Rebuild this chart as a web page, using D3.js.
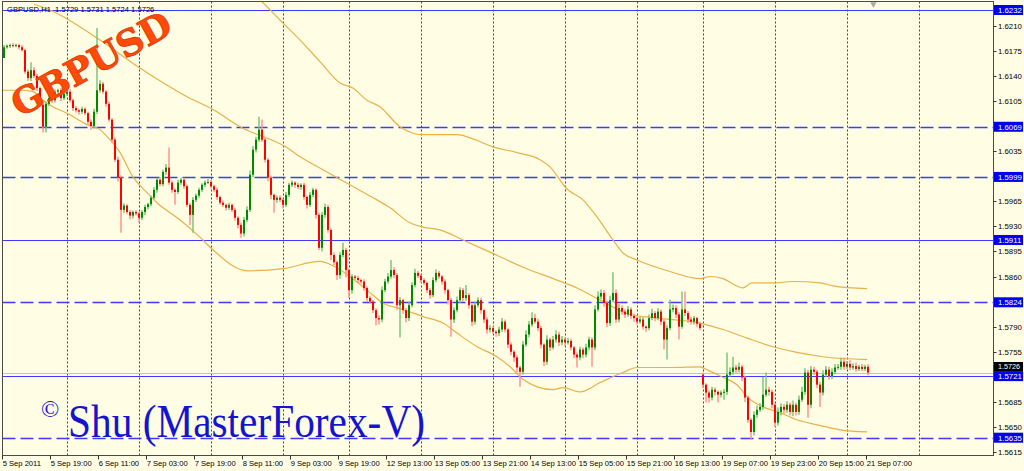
<!DOCTYPE html>
<html><head><meta charset="utf-8">
<script src="https://cdn.jsdelivr.net/npm/d3@7"></script>
<style>body{margin:0;background:#fffde3;}svg{display:block}</style>
</head><body><svg id="c" width="1024" height="471"></svg>
<script>
// ---------------- DATA ----------------
const symbolTitle = "GBPUSD,H1  1.5729 1.5731 1.5724 1.5726";
const firstOpen = 1.6165;
const gapOpens = [[233, 1.5723]]; // weekend gap: bar index, open price
const closes = [
1.6180,1.6182,1.6183,1.6182,1.6183,1.6180,1.6176,1.6146,1.6137,1.6148,
1.6140,1.6123,1.6100,1.6069,1.6101,1.6109,1.6106,1.6118,1.6120,1.6109,
1.6115,1.6118,1.6106,1.6095,1.6092,1.6090,1.6094,1.6088,1.6076,1.6070,
1.6090,1.6120,1.6129,1.6118,1.6101,1.6079,1.6051,1.6023,1.5998,1.5953,
1.5959,1.5950,1.5945,1.5950,1.5948,1.5942,1.5950,1.5957,1.5961,1.5970,
1.5981,1.5995,1.5989,1.6006,1.6012,1.5991,1.5981,1.5978,1.5991,1.5995,
1.5986,1.5960,1.5946,1.5967,1.5973,1.5981,1.5988,1.5991,1.5992,1.5986,
1.5981,1.5971,1.5963,1.5960,1.5956,1.5960,1.5953,1.5942,1.5932,1.5920,
1.5939,1.5953,1.6002,1.6037,1.6051,1.6065,1.6051,1.6023,1.5998,1.5974,
1.5967,1.5970,1.5967,1.5960,1.5974,1.5988,1.5991,1.5988,1.5985,1.5988,
1.5971,1.5960,1.5974,1.5981,1.5946,1.5900,1.5946,1.5957,1.5925,1.5890,
1.5880,1.5862,1.5890,1.5897,1.5869,1.5841,1.5860,1.5858,1.5855,1.5853,
1.5844,1.5830,1.5825,1.5813,1.5802,1.5800,1.5841,1.5853,1.5860,1.5869,
1.5862,1.5820,1.5827,1.5813,1.5802,1.5820,1.5848,1.5865,1.5861,1.5855,
1.5851,1.5841,1.5834,1.5855,1.5865,1.5860,1.5853,1.5841,1.5827,1.5800,
1.5813,1.5827,1.5841,1.5830,1.5834,1.5820,1.5797,1.5820,1.5827,1.5813,
1.5800,1.5786,1.5788,1.5783,1.5781,1.5786,1.5797,1.5786,1.5765,1.5755,
1.5747,1.5733,1.5727,1.5765,1.5779,1.5793,1.5802,1.5797,1.5788,1.5765,
1.5741,1.5772,1.5761,1.5772,1.5779,1.5768,1.5772,1.5768,1.5770,1.5761,
1.5751,1.5747,1.5758,1.5751,1.5761,1.5772,1.5761,1.5814,1.5832,1.5837,
1.5823,1.5795,1.5827,1.5837,1.5800,1.5816,1.5811,1.5807,1.5814,1.5805,
1.5802,1.5797,1.5800,1.5790,1.5788,1.5802,1.5809,1.5802,1.5811,1.5797,
1.5772,1.5788,1.5814,1.5816,1.5807,1.5790,1.5814,1.5809,1.5800,1.5797,
1.5802,1.5794,1.5788,1.5709,1.5698,1.5691,1.5702,1.5699,1.5695,1.5698,
1.5699,1.5723,1.5727,1.5733,1.5730,1.5734,1.5719,1.5691,1.5660,1.5643,
1.5667,1.5674,1.5678,1.5695,1.5702,1.5699,1.5681,1.5656,1.5671,1.5678,
1.5674,1.5681,1.5671,1.5681,1.5671,1.5688,1.5699,1.5726,1.5681,1.5730,
1.5727,1.5709,1.5698,1.5723,1.5730,1.5721,1.5727,1.5733,1.5734,1.5741,
1.5734,1.5738,1.5733,1.5735,1.5731,1.5734,1.5731,1.5734,1.5726];
// upper / lower shadow length of each candle, in pips
const upWickPips = [
3,2,2,3,2,2,3,2,3,11, 4,3,2,3,3,4,2,3,2,3, 3,2,3,2,3,2,3,2,2,3, 4,87,5,3,2,3,2,3,4,3,
3,2,3,2,3,2,3,3,2,3, 4,3,4,3,5,28,3,2,4,3, 3,2,3,4,3,3,2,3,4,3, 2,3,2,3,2,3,2,3,2,3,
4,5,6,5,4,18,14,3,2,3, 2,3,3,2,4,3,3,2,3,2, 3,2,4,3,2,3,4,5,3,2, 3,2,4,10,3,2,3,2,3,2,
3,2,3,2,3,4,5,4,5,14, 4,3,4,2,3,5,4,6,3,2, 3,2,3,4,5,3,2,3,2,3, 4,5,4,3,14,3,2,5,4,3,
2,3,4,3,2,4,5,3,2,3, 2,3,2,5,6,5,8,6,4,3, 2,6,3,5,6,4,5,3,4,3, 2,3,4,3,5,4,3,6,7,5,
4,3,6,29,5,6,4,3,5,3, 3,2,4,3,2,5,6,3,5,3, 3,4,14,5,4,3,25,25,3,4, 3,2,3,3,2,3,4,3,2,3,
4,31,6,15,4,6,3,2,3,2, 5,6,5,25,24,4,3,2,6,5, 4,5,3,6,3,6,7,6,4,5, 4,3,4,6,5,4,5,5,4,6,
6,4,5,4,5,3,4,3,4];
const dnWickPips = [
0,2,3,2,2,3,2,3,4,4, 3,4,3,8,8,3,4,3,3,4, 3,3,3,4,3,4,3,3,4,5, 3,3,3,3,4,3,4,3,5,32,
4,3,5,4,3,7,3,4,3,3, 3,4,3,3,4,3,4,18,3,3, 4,3,14,25,3,3,3,3,2,3, 3,4,3,3,4,3,3,4,5,6,
4,3,3,3,4,3,3,4,5,6, 18,4,3,5,3,3,3,4,3,4, 4,5,3,3,5,3,5,4,4,7, 4,7,5,3,10,11,5,3,4,3,
4,5,3,4,10,7,4,3,3,3, 4,6,45,5,6,4,3,3,3,4, 3,4,5,3,3,3,4,5,6,24, 5,3,4,5,4,5,6,4,3,5,
5,6,4,3,5,4,3,4,5,5, 6,7,21,4,3,4,3,3,4,5, 6,4,5,3,4,5,4,5,3,4, 5,14,4,5,4,4,27,4,3,4,
5,6,4,3,5,4,4,5,3,4, 5,4,3,4,5,3,3,4,3,5, 14,28,3,4,5,18,3,4,5,4, 4,5,3,5,14,7,4,5,11,4,
10,4,3,4,5,4,5,6,4,11, 5,4,3,4,3,5,5,6,4,5, 5,4,5,6,5,4,3,4,18,5, 4,5,20,4,3,5,4,3,3,4,
4,3,4,3,4,3,3,3,4];
// Bollinger-style envelope, sampled [bar index, price]
const bandUpper = [[82,1.6257],[85.3,1.6246],[92,1.6218],[98.7,1.6190],[105.3,1.6160],[112,1.6130],[116.3,1.6123],[121,1.6106],[125.3,1.6097],[132,1.6069],[136.3,1.6060],[138.7,1.6058],[145.3,1.6058],[151,1.6058],[157,1.6051],[163,1.6041],[171,1.6033],[178.7,1.6023],[182,1.6013],[185.3,1.5995],[187,1.5985],[193,1.5967],[197.7,1.5943],[203,1.5911],[206.3,1.5893],[211,1.5883],[222,1.5867],[232,1.5857],[235.3,1.5860],[239.7,1.5857],[244.7,1.5846],[246.3,1.5844],[249.3,1.5851],[256.3,1.5851],[263,1.5853],[272,1.5851],[276.3,1.5847],[287.7,1.5843]];
const bandMiddle = [[10,1.6240],[15.3,1.6232],[32,1.6190],[45.3,1.6151],[61,1.6111],[69.7,1.6093],[78.7,1.6069],[94.3,1.6040],[98.7,1.6027],[106.3,1.6009],[115.3,1.5988],[123,1.5970],[128.7,1.5956],[135.3,1.5935],[139.7,1.5929],[145.3,1.5925],[153,1.5911],[162,1.5894],[173,1.5873],[184.3,1.5855],[191,1.5844],[198.7,1.5827],[208.7,1.5807],[217.7,1.5802],[232,1.5795],[239.7,1.5786],[247.7,1.5774],[256.3,1.5762],[264.3,1.5754],[273,1.5748],[287.7,1.5744]];
const bandLower = [[-1.3,1.6120],[5.3,1.6120],[9.7,1.6118],[13,1.6106],[16.3,1.6097],[21,1.6088],[27.7,1.6072],[32,1.6065],[35.3,1.6051],[38.7,1.6033],[43,1.5999],[47.7,1.5977],[51,1.5963],[58.7,1.5939],[65.3,1.5915],[69.7,1.5897],[81,1.5868],[93,1.5871],[105.3,1.5881],[109.7,1.5875],[115.3,1.5860],[121,1.5841],[126.3,1.5823],[133,1.5814],[139.7,1.5804],[146.3,1.5795],[151,1.5781],[157.7,1.5762],[164.3,1.5748],[168.7,1.5734],[172,1.5720],[177.7,1.5706],[183,1.5702],[186.3,1.5705],[192,1.5699],[198.7,1.5712],[206.3,1.5726],[211,1.5733],[223,1.5733],[232,1.5734],[234.3,1.5730],[239.7,1.5719],[244.3,1.5709],[247.7,1.5692],[253,1.5678],[258.7,1.5670],[264.3,1.5660],[271,1.5653],[278.7,1.5646],[287.7,1.5643]];
const timeLabels = ["5 Sep 2011","5 Sep 19:00","6 Sep 11:00","7 Sep 03:00","7 Sep 19:00","8 Sep 11:00","9 Sep 03:00","9 Sep 19:00","12 Sep 13:00","13 Sep 05:00","13 Sep 21:00","14 Sep 13:00","15 Sep 05:00","15 Sep 21:00","16 Sep 13:00","19 Sep 07:00","19 Sep 23:00","20 Sep 15:00","21 Sep 07:00"];
const barsPerLabel = 16;
const dayStartBars = [21,45,69,93,115,139,163,187,211,233,257,281,305];
const priceTicks = [1.6210,1.6175,1.6140,1.6105,1.6035,1.5965,1.5930,1.5895,1.5860,1.5790,1.5755,1.5685,1.5650,1.5615];
const levelPrices = [1.6232,1.6069,1.5999,1.5911,1.5824,1.5721,1.5635];
const levelDashed = [false,true,true,false,true,false,true];
const bidPrice = 1.5726;
const watermark = "GBPUSD";
const copyrightSign = "©";
const copyrightText = "Shu (MasterForex-V)";

// ---------------- DRAW ----------------
const W = 1024, H = 471;
const L = 2.5, T = 1.5, R = 993.5, B = 455.5;
const svg = d3.select("#c");
const x = d3.scaleLinear().domain([0, 288]).range([4, 868]);
const y = d3.scaleLinear().domain([1.5635, 1.6232]).range([437.7, 10]);
const font = "'Liberation Sans', Arial, sans-serif";

svg.append("rect").attr("width", W).attr("height", H).attr("fill", "#fffde3");
svg.append("clipPath").attr("id", "clip").append("rect")
  .attr("x", L + 0.5).attr("y", T + 0.5).attr("width", R - L - 1).attr("height", B - T - 1);
const plot = svg.append("g").attr("clip-path", "url(#clip)");

// vertical dotted grid (day separators)
plot.selectAll("line.vg").data(dayStartBars).join("line").attr("class", "vg")
  .attr("x1", d => Math.round(x(d)) + 0.5).attr("x2", d => Math.round(x(d)) + 0.5)
  .attr("y1", T).attr("y2", B)
  .attr("stroke", "#444").attr("stroke-width", 1).attr("stroke-dasharray", "2,2");

// horizontal level lines
plot.selectAll("line.lv").data(levelPrices).join("line").attr("class", "lv")
  .attr("x1", L).attr("x2", R)
  .attr("y1", d => Math.round(y(d)) + 0.5).attr("y2", d => Math.round(y(d)) + 0.5)
  .attr("stroke", (d, i) => levelDashed[i] ? "#3c3cf0" : "#3a3aff")
  .attr("stroke-width", (d, i) => levelDashed[i] ? 1.5 : 1.2)
  .attr("stroke-dasharray", (d, i) => levelDashed[i] ? "13,5" : null);

// bid line
plot.append("line").attr("x1", L).attr("x2", R)
  .attr("y1", Math.round(y(bidPrice)) + 0.5).attr("y2", Math.round(y(bidPrice)) + 0.5)
  .attr("stroke", "#c4c4c0").attr("stroke-width", 1.2);

// bands
const bandLine = d3.line().x(d => x(d[0])).y(d => y(d[1])).curve(d3.curveMonotoneX);
[bandUpper, bandMiddle, bandLower].forEach(b => {
  plot.append("path").attr("d", bandLine(b)).attr("fill", "none")
    .attr("stroke", "#e8b14a").attr("stroke-width", 1.2);
});

// candles
const gapMap = new Map(gapOpens);
const candles = closes.map((c, i) => {
  const o = i === 0 ? firstOpen : (gapMap.has(i) ? gapMap.get(i) : closes[i - 1]);
  const h = Math.max(o, c) + upWickPips[i] / 10000;
  const l = Math.min(o, c) - dnWickPips[i] / 10000;
  return { i, o, h, l, c, up: c >= o };
});
const cg = plot.append("g");
cg.selectAll("line.wick").data(candles).join("line").attr("class", "wick")
  .attr("x1", d => Math.round(x(d.i))).attr("x2", d => Math.round(x(d.i)))
  .attr("y1", d => y(d.h)).attr("y2", d => y(d.l))
  .attr("stroke", d => d.up ? "#74c074" : "#ff8c8c").attr("stroke-width", 1.4);
cg.selectAll("rect.body").data(candles).join("rect").attr("class", "body")
  .attr("x", d => Math.round(x(d.i)) - 1).attr("width", 2)
  .attr("y", d => y(Math.max(d.o, d.c)))
  .attr("height", d => Math.max(1, y(Math.min(d.o, d.c)) - y(Math.max(d.o, d.c))))
  .attr("fill", d => d.up ? "#008a00" : "#ff0000");

// watermark (drawn over the candles, kept fully inside the frame)
svg.append("text").text(watermark)
  .attr("transform", "translate(93,67) rotate(-29)")
  .attr("text-anchor", "middle").attr("dominant-baseline", "middle")
  .attr("font-family", "'DejaVu Serif', serif").attr("font-weight", "bold")
  .attr("font-size", 36).attr("fill", "#ff4a08")
  .attr("stroke", "#e03800").attr("stroke-width", 0.8);

// copyright text
plot.append("text").text(copyrightSign).attr("x", 41).attr("y", 417)
  .attr("font-family", "'Liberation Serif', serif").attr("font-size", 24).attr("fill", "#1414d0");
plot.append("text").text(copyrightText).attr("x", 68).attr("y", 437)
  .attr("font-family", "'Liberation Serif', serif").attr("font-size", 46).attr("fill", "#1414d0")
  .attr("textLength", 357).attr("lengthAdjust", "spacingAndGlyphs");

// title
svg.append("text").text(symbolTitle).attr("x", 7).attr("y", 12)
  .attr("font-family", font).attr("font-size", 7.6).attr("fill", "#000")
  .style("white-space", "pre").attr("xml:space", "preserve");

// shift marker
svg.append("path")
  .attr("d", d3.symbol().type(d3.symbolTriangle).size(18)())
  .attr("transform", `translate(${x(289.8)},4) rotate(180)`).attr("fill", "#a8a8a8");

// frame
svg.append("rect").attr("x", L).attr("y", T).attr("width", R - L).attr("height", B - T)
  .attr("fill", "none").attr("stroke", "#4a4a4a").attr("stroke-width", 1);

// price axis
const pa = svg.append("g");
pa.selectAll("line.pt").data(priceTicks).join("line").attr("class", "pt")
  .attr("x1", R).attr("x2", R + 3)
  .attr("y1", d => Math.round(y(d)) + 0.5).attr("y2", d => Math.round(y(d)) + 0.5)
  .attr("stroke", "#333");
pa.selectAll("text.pl").data(priceTicks).join("text").attr("class", "pl")
  .attr("x", 998).attr("y", d => y(d) + 3)
  .attr("font-family", font).attr("font-size", 7.8).attr("fill", "#000")
  .text(d => d.toFixed(4));
// current price (black) label, sitting just above the 1.5721 level label
pa.append("rect").attr("x", 994).attr("y", y(bidPrice) - 10.5).attr("width", 29).attr("height", 9.5).attr("fill", "#000");
pa.append("text").attr("x", 998).attr("y", y(bidPrice) - 3.2).attr("font-family", font)
  .attr("font-size", 7.2).attr("fill", "#fff").text(bidPrice.toFixed(4));
// highlighted level labels
pa.selectAll("rect.hl").data(levelPrices).join("rect").attr("class", "hl")
  .attr("x", 994).attr("y", d => y(d) - 5).attr("width", 29).attr("height", 10)
  .attr("fill", "#0000f0");
pa.selectAll("text.hl").data(levelPrices).join("text").attr("class", "hl")
  .attr("x", 998).attr("y", d => y(d) + 3)
  .attr("font-family", font).attr("font-size", 7.8).attr("fill", "#fff")
  .text(d => d.toFixed(4));

// time axis
const tBars = timeLabels.map((t, k) => k * barsPerLabel);
const ta = svg.append("g");
ta.selectAll("line.tt").data(tBars).join("line").attr("class", "tt")
  .attr("x1", d => Math.round(x(d)) - 1.5).attr("x2", d => Math.round(x(d)) - 1.5)
  .attr("y1", B).attr("y2", B + 4).attr("stroke", "#333");
ta.selectAll("text").data(timeLabels).join("text")
  .attr("x", (d, k) => x(tBars[k]) - 1.3).attr("y", 466)
  .attr("font-family", font).attr("font-size", 7.6).attr("fill", "#000")
  .text(d => d);
</script></body></html>
